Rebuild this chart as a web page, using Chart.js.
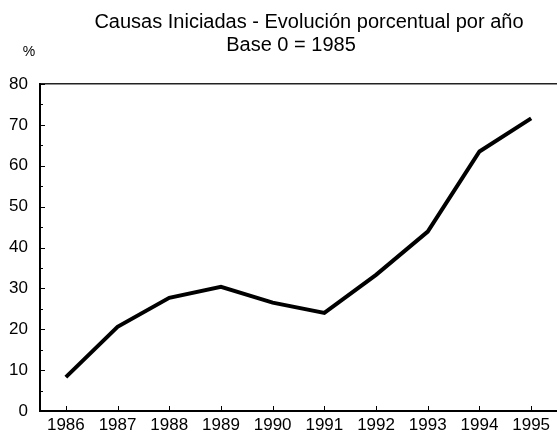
<!DOCTYPE html>
<html>
<head>
<meta charset="utf-8">
<script src="https://cdn.jsdelivr.net/npm/chart.js@4/dist/chart.umd.min.js"></script>
<style>
  body { margin: 0; background: #fff; }
  #wrap { width: 557px; height: 439px; }
</style>
</head>
<body>
<div id="wrap"><canvas id="causas"></canvas></div>
<script>
// Causas iniciadas, % change vs 1985
const years = ['1986', '1987', '1988', '1989', '1990', '1991', '1992', '1993', '1994', '1995']
const pct = [8.3, 20.6, 27.7, 30.4, 26.5, 24.0, 33.3, 43.9, 63.5, 71.6]
const titleLines = ['Causas Iniciadas - Evolución porcentual por año', 'Base 0 = 1985']
const yUnit = '%'

const FONT = '"Liberation Sans", Arial, sans-serif'

// titles + inward tick marks, scanned-report style
const decor = {
  id: 'decor',
  afterDraw(chart) {
    const c = chart.ctx
    const x = chart.scales.x
    const y = chart.scales.y
    const area = chart.chartArea
    c.save()
    c.fillStyle = '#000'
    c.textAlign = 'center'
    c.textBaseline = 'alphabetic'
    c.font = '20px ' + FONT
    c.fillText(titleLines[0], 309, 28)
    c.fillText(titleLines[1], 291, 51)
    c.font = '14px ' + FONT
    c.fillText(yUnit, 29, 56)

    c.strokeStyle = '#000'
    c.lineWidth = 1
    c.beginPath()
    x.ticks.forEach((t, i) => {
      const px = Math.round(x.getPixelForTick(i)) + 0.5
      c.moveTo(px, area.bottom)
      c.lineTo(px, area.bottom - 5)
    })
    for (let v = 0; v <= 80; v += 5) {
      const py = Math.round(y.getPixelForValue(v)) + 0.5
      c.moveTo(area.left, py)
      c.lineTo(area.left + (v % 10 === 0 ? 5 : 3), py)
    }
    c.stroke()
    c.restore()
  }
}

const ctx = document.getElementById('causas').getContext('2d')
const chart = new Chart(ctx, {
  type: 'line',
  data: {
    labels: years,
    datasets: [{
      label: 'Causas iniciadas',
      data: pct,
      borderColor: '#000',
      borderWidth: 4,
      pointRadius: 0,
      tension: 0,
      fill: false
    }]
  },
  options: {
    responsive: true,
    maintainAspectRatio: false,
    animation: false,
    layout: { padding: { top: 84, right: 0, left: 0, bottom: 0 } },
    plugins: {
      legend: { display: false },
      title: { display: false },
      tooltip: { enabled: false }
    },
    scales: {
      x: {
        offset: true,
        afterFit: s => { s.height = 28 },
        grid: { display: false, drawTicks: false },
        border: { display: true, color: '#000', width: 2 },
        ticks: { color: '#000', padding: 4, maxRotation: 0, font: { family: FONT, size: 17 } }
      },
      y: {
        min: 0,
        max: 80,
        afterFit: s => { s.width = 40 },
        grid: {
          drawTicks: false,
          color: c => (c.tick && c.tick.value === 80 ? '#222' : 'rgba(0,0,0,0)'),
          lineWidth: 1.5
        },
        border: { display: true, color: '#000', width: 2 },
        ticks: { stepSize: 10, color: '#000', padding: 12, font: { family: FONT, size: 17 } }
      }
    }
  },
  plugins: [decor]
})
</script>
</body>
</html>
